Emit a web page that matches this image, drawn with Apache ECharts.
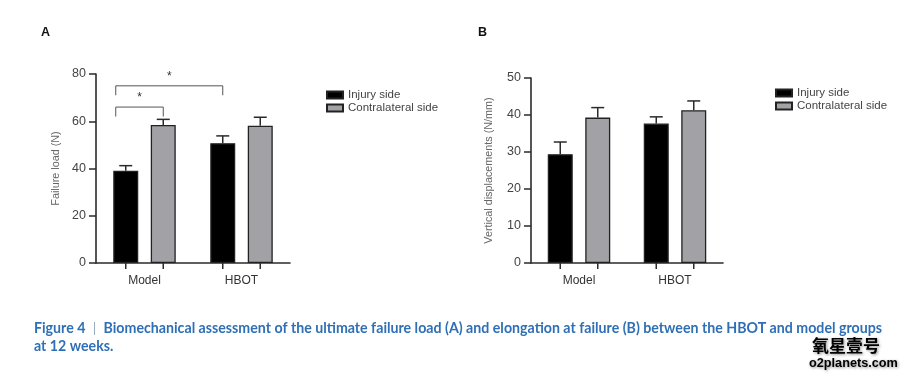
<!DOCTYPE html>
<html><head><meta charset="utf-8">
<script src="https://cdn.jsdelivr.net/npm/echarts@6/dist/echarts.min.js"></script>
<style>html,body{margin:0;padding:0;background:#fff}#c{width:924px;height:381px}</style>
</head><body><div id="c"></div>
<script>
// ---- data ----
const categories = ['Model', 'HBOT'];
const seriesNames = ['Injury side', 'Contralateral side'];
// Panel A: failure load (N)
const loadInjury = [39.1, 50.7];
const loadInjurySem = [2.1, 3.1];
const loadContra = [58.4, 58.1];
const loadContraSem = [2.4, 3.6];
const loadTicks = [0, 20, 40, 60, 80];
// significance brackets A: [fromCat, fromSeries, toCat, toSeries, level, drop]
const loadBrackets = [[0, 0, 1, 0, 75, 4], [0, 0, 0, 1, 66, 4]];
// Panel B: vertical displacements (N/mm)
const dispInjury = [29.4, 37.7];
const dispInjurySem = [3.3, 1.8];
const dispContra = [39.3, 41.3];
const dispContraSem = [2.7, 2.5];
const dispTicks = [0, 10, 20, 30, 40, 50];

const AXIS = '#2b2b2b';
const GRAY = '#a2a2a6';
const BAR_W = 25;
const OFF = 18.75; // half of bar + gap spacing (barGap 50%)

function errData(mean, sem, s) {
  return mean.map((m, i) => [i, m, sem[i], s]);
}
function errRender(params, api) {
  const cat = api.value(0), m = api.value(1), e = api.value(2), s = api.value(3);
  const x = api.coord([cat, 0])[0] + (s === 0 ? -OFF : OFF);
  const y0 = api.coord([cat, 0])[1];
  const yt = api.coord([cat, m])[1];
  const ye = api.coord([cat, m + e])[1];
  const st = { stroke: AXIS, lineWidth: 1.5, fill: null };
  return { type: 'group', children: [
    { type: 'line', shape: { x1: x, y1: yt, x2: x, y2: ye }, style: st },
    { type: 'line', shape: { x1: x - 6.5, y1: ye, x2: x + 6.5, y2: ye }, style: st },
    { type: 'line', shape: { x1: x, y1: y0, x2: x, y2: y0 + 6 }, style: st }
  ]};
}
function bracketRender(params, api) {
  const c1 = api.value(0), s1 = api.value(1), c2 = api.value(2), s2 = api.value(3);
  const lv = api.value(4), dr = api.value(5);
  const x1 = api.coord([c1, 0])[0] + (s1 === 0 ? -OFF : OFF) - 10;
  const x2 = api.coord([c2, 0])[0] + (s2 === 0 ? -OFF : OFF);
  const y = api.coord([c1, lv])[1];
  const yd = api.coord([c1, lv - dr])[1];
  return { type: 'group', children: [
    { type: 'polyline', shape: { points: [[x1, yd], [x1, y], [x2, y], [x2, yd]] },
      style: { stroke: '#555', lineWidth: 1, fill: null } },
    { type: 'text', style: { text: '*', x: (x1 + x2) / 2, y: y - 3, align: 'center',
      verticalAlign: 'bottom', fill: '#333', font: '12px "Liberation Sans", Arial' } }
  ]};
}

function yAxis(gi, max, interval, name, gap) {
  return {
    type: 'value', gridIndex: gi, min: 0, max: max, interval: interval,
    name: name, nameLocation: 'middle', nameGap: gap, nameRotate: 90,
    nameTextStyle: { fontSize: 10.8, color: '#666', fontFamily: 'Liberation Sans' },
    axisLine: { show: true, lineStyle: { color: AXIS, width: 1.6 } },
    axisTick: { show: true, length: 7, lineStyle: { color: AXIS, width: 1.5 } },
    axisLabel: { fontSize: 12.5, color: '#444', margin: 10, fontFamily: 'Liberation Sans' },
    splitLine: { show: false }
  };
}
function xAxis(gi) {
  return {
    type: 'category', gridIndex: gi, data: categories,
    axisLine: { show: true, lineStyle: { color: AXIS, width: 1.6 } },
    axisTick: { show: false },
    axisLabel: { fontSize: 12, color: '#333', margin: 12, fontFamily: 'Liberation Sans' }
  };
}
function bar(name, gi, data, color) {
  return {
    type: 'bar', name: name, xAxisIndex: gi, yAxisIndex: gi, data: data,
    barWidth: BAR_W, barGap: '50%',
    itemStyle: { color: color, borderColor: '#222', borderWidth: 1.3 }
  };
}
function legend(left, top) {
  return {
    left: left, top: top, orient: 'vertical', icon: 'rect', itemWidth: 16, itemHeight: 7,
    itemGap: 1, data: seriesNames,
    textStyle: { fontSize: 11.5, color: '#444', fontFamily: 'Liberation Sans' }
  };
}

const chart = echarts.init(document.getElementById('c'), null, { renderer: 'canvas' });
chart.setOption({
  animation: false,
  backgroundColor: '#fff',
  grid: [
    { left: 96, top: 74, width: 194, height: 189 },
    { left: 531, top: 78, width: 192, height: 185 }
  ],
  xAxis: [xAxis(0), xAxis(1)],
  yAxis: [yAxis(0, 80, 20, 'Failure load (N)', 34), yAxis(1, 50, 10, 'Vertical displacements (N/mm)', 36)],
  legend: [legend(321, 84), legend(770, 82)],
  series: [
    bar(seriesNames[0], 0, loadInjury, '#000'),
    bar(seriesNames[1], 0, loadContra, GRAY),
    bar(seriesNames[0], 1, dispInjury, '#000'),
    bar(seriesNames[1], 1, dispContra, GRAY),
    { type: 'custom', xAxisIndex: 0, yAxisIndex: 0, renderItem: errRender, clip: false, z: 5,
      data: errData(loadInjury, loadInjurySem, 0).concat(errData(loadContra, loadContraSem, 1)) },
    { type: 'custom', xAxisIndex: 1, yAxisIndex: 1, renderItem: errRender, clip: false, z: 5,
      data: errData(dispInjury, dispInjurySem, 0).concat(errData(dispContra, dispContraSem, 1)) },
    { type: 'custom', xAxisIndex: 0, yAxisIndex: 0, renderItem: bracketRender, clip: false, z: 5,
      data: loadBrackets }
  ],
  graphic: [
    { type: 'text', left: 41, top: 26, style: { text: 'A', font: 'bold 12.5px "Liberation Sans", Arial', fill: '#111' } },
    { type: 'text', left: 478, top: 26, style: { text: 'B', font: 'bold 12.5px "Liberation Sans", Arial', fill: '#111' } },
    { type: 'text', left: 34, top: 319, style: {
      text: '{a|Figure 4}{s|  |  }{a|Biomechanical assessment of the ultimate failure load (A) and elongation at failure (B) between the HBOT and model groups}\n{a|at 12 weeks.}',
      lineHeight: 18,
      rich: {
        a: { font: 'bold 14.2px Lato', fill: '#2f6fb5', lineHeight: 18 },
        s: { font: '14.2px Lato', fill: '#9aa9bd', lineHeight: 18 }
      } } },
    { type: 'text', left: 812, top: 337, style: { text: '氧星壹号', font: 'bold 17px "Noto Sans CJK SC"', fill: '#000',
      textShadowColor: 'rgba(0,0,0,0.45)', textShadowBlur: 3, textShadowOffsetX: 1, textShadowOffsetY: 1 } },
    { type: 'text', left: 809, top: 357, style: { text: 'o2planets.com', font: 'bold 12.7px "Liberation Sans", Arial', fill: '#000',
      textShadowColor: 'rgba(0,0,0,0.45)', textShadowBlur: 3, textShadowOffsetX: 1, textShadowOffsetY: 1 } }
  ]
});
</script></body></html>
